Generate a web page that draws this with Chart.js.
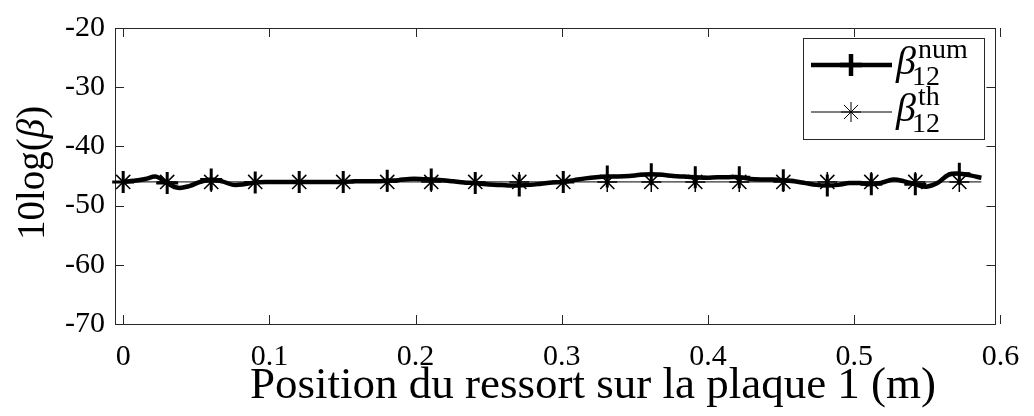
<!DOCTYPE html>
<html>
<head>
<meta charset="utf-8">
<script src="https://cdn.jsdelivr.net/npm/chart.js@4.4.1/dist/chart.umd.min.js"></script>
<style>html,body{margin:0;padding:0;background:#fff}</style>
</head>
<body>
<canvas id="beta" width="1034" height="416"></canvas>
<script>
// positions du ressort (m) et 10log(beta) numerique
const xNum = [0, .0075, .0151, .0226, .0301, .0376, .0452, .0527, .0602, .0677,
  .0753, .0828, .0903, .0978, .1054, .1129, .1204, .1279, .1355, .1430,
  .1505, .1580, .1656, .1731, .1806, .1881, .1957, .2032, .2107, .2182,
  .2258, .2333, .2408, .2483, .2559, .2634, .2709, .2784, .2860, .2935,
  .3010, .3085, .3161, .3236, .3311, .3386, .3462, .3537, .3612, .3687,
  .3763, .3838, .3913, .3988, .4064, .4139, .4214, .4289, .4365, .4440,
  .4515, .4590, .4666, .4741, .4816, .4891, .4967, .5042, .5117, .5192,
  .5268, .5343, .5418, .5493, .5569, .5644, .5719, .5794, .5870];
const yNum = [-46.0, -45.8, -45.5, -45.1, -46.2, -47.0, -46.7, -46.0, -45.6, -45.9,
  -46.5, -46.4, -46.1, -46.0, -46.0, -46.0, -46.0, -46.0, -46.0, -46.0,
  -46.0, -45.9, -45.9, -45.9, -45.8, -45.7, -45.5, -45.5, -45.6, -45.7,
  -45.9, -46.1, -46.2, -46.4, -46.5, -46.6, -46.6, -46.5, -46.3, -46.1,
  -46.0, -45.7, -45.4, -45.2, -45.1, -45.1, -45.0, -44.8, -44.7, -44.8,
  -45.0, -45.1, -45.2, -45.3, -45.2, -45.2, -45.2, -45.5, -45.6, -45.6,
  -45.7, -45.9, -46.2, -46.5, -46.6, -46.5, -46.2, -46.2, -46.4, -46.1,
  -45.6, -45.9, -46.4, -46.8, -46.2, -44.8, -44.6, -44.9, -45.3];
// valeur theorique
const xTh = [0, .0301, .0602, .0903, .1204, .1505, .1806, .2107, .2408, .2709,
  .3010, .3311, .3612, .3913, .4214, .4515, .4816, .5117, .5418, .5719, .5870];
const yTh = [-46, -46, -46, -46, -46, -46, -46, -46, -46, -46,
  -46, -46, -46, -46, -46, -46, -46, -46, -46, -46, -46];
const xTicks = [0, 0.1, 0.2, 0.3, 0.4, 0.5, 0.6];
const yTicks = [-70, -60, -50, -40, -30, -20];
const MARK_EVERY = 4;

const FONT = "'Liberation Serif', 'Times New Roman', serif";
const AXIS = '#262626';

const matlabAxes = {
  id: 'matlabAxes',
  beforeDatasetsDraw(chart) {
    const {ctx, chartArea: a, scales: {x, y}} = chart;
    ctx.save();
    ctx.strokeStyle = AXIS;
    ctx.lineWidth = 1;
    ctx.strokeRect(Math.round(a.left) + 0.5, Math.round(a.top) + 0.5,
      Math.round(a.right - a.left), Math.round(a.bottom - a.top));
    ctx.beginPath();
    xTicks.forEach(v => {
      const px = Math.round(x.getPixelForValue(v)) + 0.5;
      ctx.moveTo(px, a.bottom); ctx.lineTo(px, a.bottom - 9);
      ctx.moveTo(px, a.top); ctx.lineTo(px, a.top + 9);
    });
    yTicks.forEach(v => {
      const py = Math.round(y.getPixelForValue(v)) + 0.5;
      ctx.moveTo(a.left, py); ctx.lineTo(a.left + 9, py);
      ctx.moveTo(a.right, py); ctx.lineTo(a.right - 9, py);
    });
    ctx.stroke();
    ctx.restore();
  },
  afterDraw(chart) {
    const ctx = chart.ctx;
    ctx.save();
    ctx.fillStyle = '#000';
    // titre axe x
    ctx.font = '45px ' + FONT;
    ctx.textAlign = 'center';
    ctx.textBaseline = 'alphabetic';
    ctx.fillText('Position du ressort sur la plaque 1 (m)', 593, 398);
    // titre axe y : 10log(β)
    ctx.translate(44, 173);
    ctx.rotate(-Math.PI / 2);
    const parts = [['10log(', '39px '], ['β', 'italic 39px '], [')', '39px ']];
    let w = 0;
    parts.forEach(p => { ctx.font = p[1] + FONT; w += ctx.measureText(p[0]).width; });
    let cx = -w / 2;
    ctx.textAlign = 'left';
    parts.forEach(p => {
      ctx.font = p[1] + FONT;
      ctx.fillText(p[0], cx, 0);
      cx += ctx.measureText(p[0]).width;
    });
    ctx.restore();

    // legende
    ctx.save();
    ctx.fillStyle = '#fff';
    ctx.fillRect(803, 38, 181, 101);
    ctx.strokeStyle = AXIS;
    ctx.lineWidth = 1;
    ctx.strokeRect(803.5, 38.5, 181, 101);
    const rows = [
      {y: 65, lw: 4.5, style: 'cross', r: 11, pw: 3, sup: 'num'},
      {y: 112, lw: 1, style: 'star', r: 10, pw: 1.5, sup: 'th'}
    ];
    rows.forEach(r => {
      ctx.strokeStyle = '#000';
      ctx.lineWidth = r.lw;
      ctx.beginPath();
      ctx.moveTo(811, r.y); ctx.lineTo(892, r.y);
      ctx.stroke();
      Chart.helpers.drawPoint(ctx, {pointStyle: r.style, radius: r.r, borderWidth: r.pw,
        rotation: 0}, 851, r.y);
      ctx.fillStyle = '#000';
      ctx.textAlign = 'left';
      ctx.font = 'italic 40px ' + FONT;
      ctx.fillText('β', 896, r.y + 9);
      ctx.font = '28px ' + FONT;
      ctx.fillText(r.sup, 918, r.y - 7);
      ctx.fillText('12', 912, r.y + 20);
    });
    ctx.restore();
  }
};

new Chart(document.getElementById('beta'), {
  type: 'line',
  data: {
    datasets: [{
      label: 'num',
      data: xNum.map((x, i) => ({x: x, y: yNum[i]})),
      borderColor: '#000',
      backgroundColor: '#000',
      borderWidth: 4.5,
      tension: 0.35,
      pointStyle: 'cross',
      pointRadius: ctx => ctx.dataIndex % MARK_EVERY === 0 ? 11 : 0,
      pointBorderWidth: 3,
      pointBorderColor: '#000',
      clip: false
    }, {
      label: 'th',
      data: xTh.map((x, i) => ({x: x, y: yTh[i]})),
      borderColor: '#000',
      backgroundColor: '#000',
      borderWidth: 1,
      pointStyle: 'star',
      pointRadius: ctx => ctx.dataIndex < xTh.length - 1 ? 10 : 0,
      pointBorderWidth: 1.5,
      pointBorderColor: '#000',
      clip: false
    }]
  },
  options: {
    responsive: false,
    animation: false,
    events: [],
    layout: {padding: {left: 0, top: 21, right: 28, bottom: 0}},
    plugins: {legend: {display: false}, tooltip: {enabled: false}},
    scales: {
      x: {
        type: 'linear',
        min: -0.0056,
        max: 0.5966,
        afterBuildTicks: s => { s.ticks = xTicks.map(v => ({value: v})); },
        afterFit: s => { s.height = 92; },
        grid: {display: false, drawTicks: false},
        border: {display: false},
        ticks: {
          color: '#000',
          padding: 15,
          maxRotation: 0,
          font: {family: FONT, size: 30},
          callback: v => String(v)
        }
      },
      y: {
        min: -70,
        max: -20,
        afterBuildTicks: s => { s.ticks = yTicks.map(v => ({value: v})); },
        afterFit: s => { s.width = 115; },
        grid: {display: false, drawTicks: false},
        border: {display: false},
        ticks: {
          color: '#000',
          padding: 10,
          font: {family: FONT, size: 30},
          callback: v => String(v)
        }
      }
    }
  },
  plugins: [matlabAxes]
});
</script>
</body>
</html>
